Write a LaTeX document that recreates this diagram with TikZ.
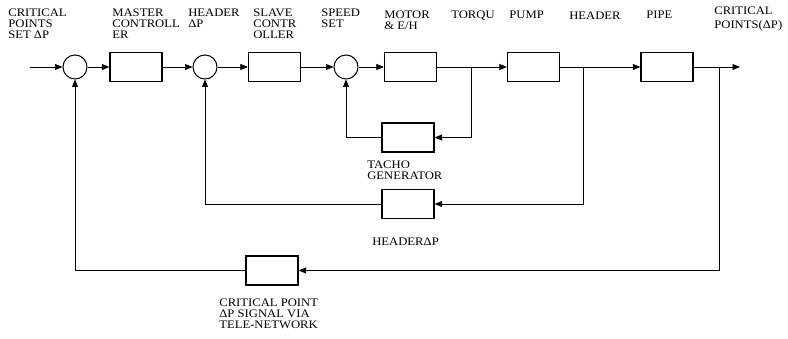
\documentclass[tikz,border=0pt]{standalone}
\usepackage{fontspec}
\setmainfont{Liberation Serif}[FakeStretch=1.1]
\usepackage{tikz}
\usetikzlibrary{arrows.meta,positioning,calc}

\begin{document}
\begin{tikzpicture}[x=1pt,y=-1pt, line width=0.7pt,
  every node/.style={font=\fontsize{11.5}{11}\selectfont},
  blk/.style={draw,line width=1.3pt,minimum width=52pt,minimum height=29pt,inner sep=0pt},
  sumc/.style={draw,line width=1pt,circle,minimum size=24pt,inner sep=0pt},
  lbl/.style={anchor=north west,align=left,inner sep=0pt},
  sig/.style={-{Triangle[length=7.5pt,width=6pt]}}]
\useasboundingbox (0,0) rectangle (788,339);
\coordinate (in) at (30,67);
\node[sumc] (s1) at (75,67) {};
\node[blk] (master) at (136,67) {};
\node[sumc] (s2) at (205,67) {};
\node[blk] (slave) at (274.5,67) {};
\node[sumc] (s3) at (346,67) {};
\node[blk] (motor) at (410.5,67) {};
\node[blk] (pump) at (533.5,67) {};
\node[blk] (pipe) at (667,67) {};
\coordinate (out) at (740,67);
\node[blk] (tacho) at (408,137.5) {};
\node[blk] (hdr) at (408,204) {};
\node[blk] (tele) at (272,270.5) {};
\coordinate (tq) at (471,67); \coordinate (hd) at (583,67); \coordinate (cp) at (719,67);
\draw[sig] (in) -- (s1);
\draw[sig] (s1) -- (master);
\draw[sig] (master) -- (s2);
\draw[sig] (s2) -- (slave);
\draw[sig] (slave) -- (s3);
\draw[sig] (s3) -- (motor);
\draw[sig] (motor) -- (pump);
\draw[sig] (pump) -- (pipe);
\draw[sig] (pipe) -- (out);
\draw[sig] (tq) |- (tacho);
\draw[sig] (tacho) -| (s3);
\draw[sig] (hd) |- (hdr);
\draw[sig] (hdr) -| (s2);
\draw[sig] (cp) |- (tele);
\draw[sig] (tele) -| (s1);
\node[lbl] (tcrit) at (8,9) {CRITICAL\\POINTS\\SET ΔP};
\node[lbl] (tmaster) at (112,9) {MASTER\\CONTROLL\\ER};
\node[lbl] (thdr) at (188,9) {HEADER\\ΔP};
\node[lbl] (tslave) at (253,9) {SLAVE\\CONTR\\OLLER};
\node[lbl] (tspeed) at (321,9) {SPEED\\SET};
\node[lbl] (tmotor) at (384,11) {MOTOR\\\& E/H};
\node[lbl] (ttorq) at (451,11) {TORQU};
\node[lbl] (tpump) at (509,11) {PUMP};
\node[lbl] (theader) at (569,12) {HEADER};
\node[lbl] (tpipe) at (646,11) {PIPE};
\node[lbl] (tout) at (714,7) {CRITICAL\\[3pt]POINTS(ΔP)};
\node[lbl] (ttacho) at (367,161) {TACHO\\GENERATOR};
\node[lbl] (thdrp) at (372,238) {HEADERΔP};
\node[lbl] (ttele) at (219,299) {CRITICAL POINT\\ΔP SIGNAL VIA\\TELE-NETWORK};
\end{tikzpicture}
\end{document}
